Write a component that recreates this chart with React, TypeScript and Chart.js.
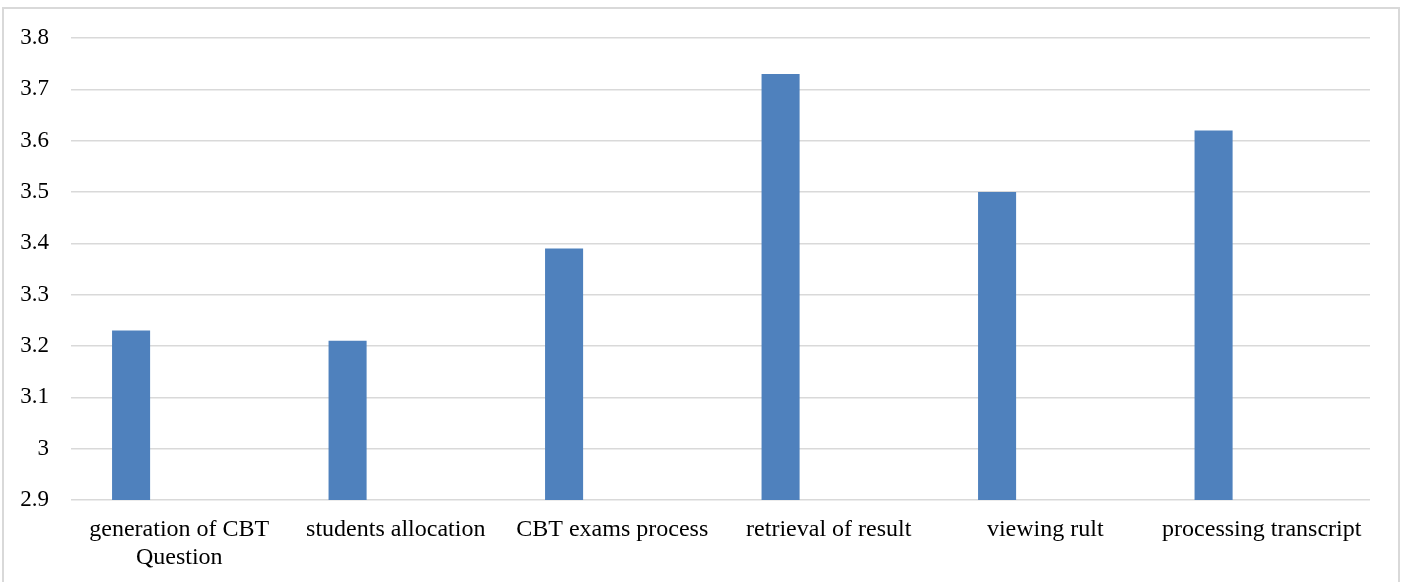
import React, { useEffect, useRef } from "react";
import { Chart, registerables } from "chart.js";

Chart.register(...registerables);

const categories: (string | string[])[] = [
  ["generation of CBT", "Question"],
  "students allocation",
  "CBT exams process",
  "retrieval of result",
  "viewing rult",
  "processing transcript",
];
const seriesValues: number[] = [3.23, 3.21, 3.39, 3.73, 3.5, 3.62];
const emptySeries: (number | null)[] = [null, null, null, null, null, null];
const yMin = 2.9;
const yMax = 3.8;
const yStep = 0.1;

export default function App() {
  const ref = useRef<HTMLCanvasElement | null>(null);
  useEffect(() => {
    if (!ref.current) return;
    const family = "'Liberation Serif', 'Times New Roman', serif";
    const chart = new Chart(ref.current, {
      type: "bar",
      data: {
        labels: categories,
        datasets: [
          {
            label: "Series 1",
            data: seriesValues,
            backgroundColor: "#4f81bd",
            borderWidth: 0,
            categoryPercentage: 0.89,
            barPercentage: 0.395,
          },
          {
            label: "Series 2",
            data: emptySeries,
            backgroundColor: "#c0504d",
            borderWidth: 0,
            categoryPercentage: 0.89,
            barPercentage: 0.395,
          },
        ],
      },
      options: {
        animation: false,
        responsive: false,
        devicePixelRatio: 1,
        layout: { padding: { left: 0, top: 38, right: 33, bottom: 0 } },
        plugins: { legend: { display: false }, tooltip: { enabled: false } },
        scales: {
          x: {
            grid: { display: false, drawTicks: false },
            border: { display: false },
            ticks: {
              color: "#000",
              font: { family, size: 24, lineHeight: 1.17 },
              padding: 16,
              maxRotation: 0,
              autoSkip: false,
            },
            afterFit: (s: any) => {
              s.height = 82;
            },
          },
          y: {
            min: yMin,
            max: yMax,
            grid: { color: "#d9d9d9", lineWidth: 1.5, drawTicks: false },
            border: { display: false },
            ticks: {
              stepSize: yStep,
              color: "#000",
              font: { family, size: 23 },
              padding: 22,
              callback: (v: any) => String(Number(Number(v).toFixed(1))),
            },
            afterFit: (s: any) => {
              s.width = 71;
            },
          },
        },
      },
    });
    return () => chart.destroy();
  }, []);
  return (
    <>
      <div
        style={{
          position: "fixed",
          left: 2,
          top: 7,
          width: 1398,
          height: 620,
          boxSizing: "border-box",
          border: "2px solid #d9d9d9",
        }}
      />
      <canvas
        ref={ref}
        width={1403}
        height={582}
        style={{ position: "fixed", left: 0, top: 0, width: 1403, height: 582 }}
      />
    </>
  );
}
